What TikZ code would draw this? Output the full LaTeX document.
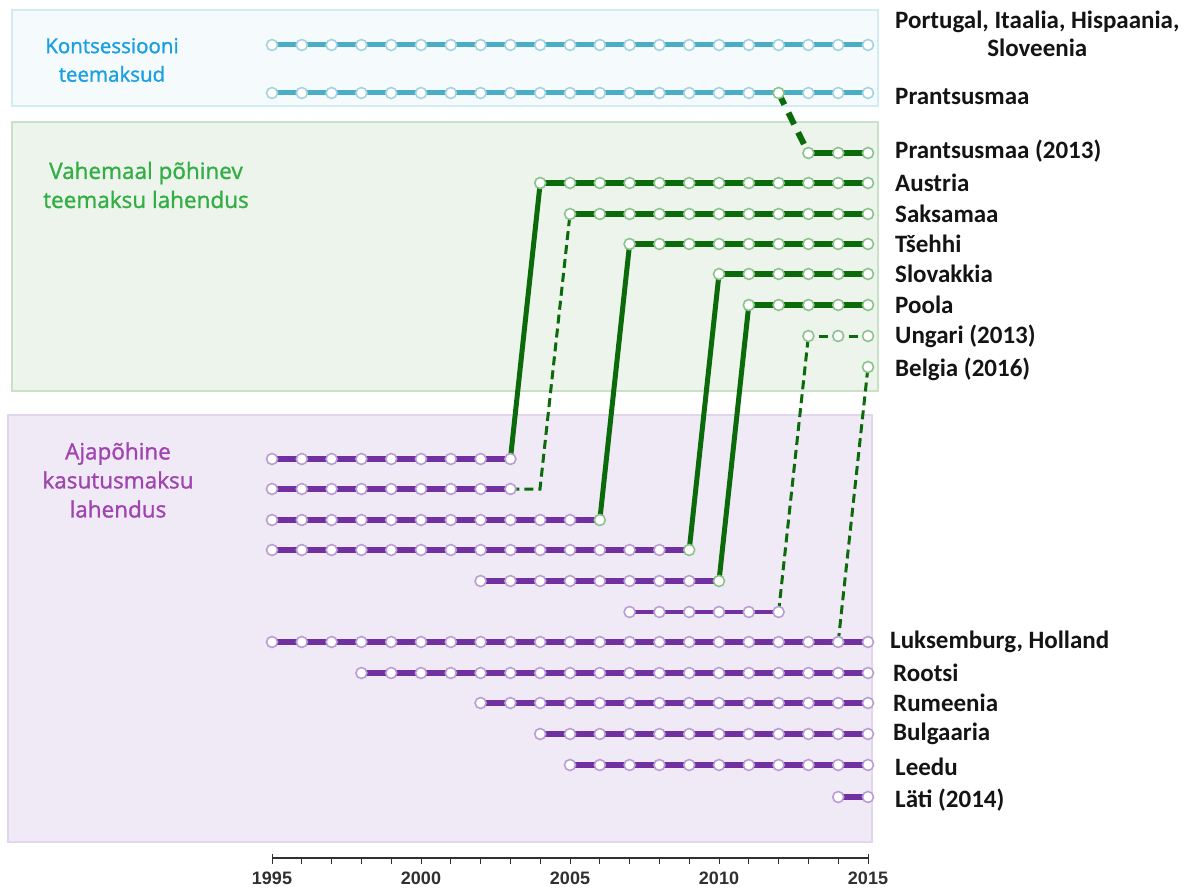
\documentclass[tikz,border=0pt]{standalone}
\usepackage{fontspec}
\setmainfont{Carlito}
\newfontfamily\groupfont[FakeBold=1.3]{Open Sans}
\newfontfamily\axisfont{Liberation Sans}

\definecolor{concline}{HTML}{4BACC6}
\definecolor{concdot}{HTML}{A3D3E0}
\definecolor{concfill}{HTML}{F5FAFC}
\definecolor{concedge}{HTML}{D3EBF3}
\definecolor{conctext}{HTML}{1A9FE0}
\definecolor{distline}{HTML}{0B6B0B}
\definecolor{distdot}{HTML}{8CC38C}
\definecolor{distfill}{HTML}{EDF4EC}
\definecolor{distedge}{HTML}{C9E1C7}
\definecolor{disttext}{HTML}{33AE45}
\definecolor{timeline}{HTML}{7030A0}
\definecolor{timedot}{HTML}{B99DD4}
\definecolor{timefill}{HTML}{F0EAF6}
\definecolor{timeedge}{HTML}{E2D6EE}
\definecolor{timetext}{HTML}{A045B0}
\definecolor{labeltext}{HTML}{141414}
\definecolor{axiscol}{HTML}{303030}

\pgfdeclarelayer{boxes}
\pgfdeclarelayer{links}
\pgfsetlayers{boxes,links,main}

\tikzset{
  yeardot/.style={circle, minimum size=11pt, inner sep=0pt, fill=white, line width=1.6pt},
  concdotst/.style={yeardot, draw=concdot},
  distdotst/.style={yeardot, draw=distdot},
  timedotst/.style={yeardot, draw=timedot},
  % dots where a country moves over to a distance-based system
  hl fr-2012/.style={draw=distdot},
  hl t3-2006/.style={draw=distdot},
  hl t4-2009/.style={draw=distdot},
  hl t5-2010/.style={draw=distdot},
  concln/.style={concline, line width=5pt},
  distln/.style={distline, line width=6pt},
  timeln/.style={timeline, line width=5.5pt},
  timethin/.style={timeline, line width=4pt},
  solidlink/.style={distline, line width=5pt},
  thinlink/.style={distline, line width=3pt, dash pattern=on 9pt off 5pt},
  frlink/.style={distline, line width=6pt, dash pattern=on 13pt off 9pt},
  groupbox/.style={line width=1.5pt},
  grouplabel/.style={font=\groupfont\fontsize{22.5}{29}\selectfont, align=center},
  country/.style={anchor=west, text=labeltext, font=\bfseries\fontsize{25}{28}\selectfont, inner sep=0pt},
  yearlabel/.style={text=axiscol, font=\axisfont\bfseries\fontsize{18}{18}\selectfont},
}

% one row of yearly dots: name, y, first year, last year, dot style
\newcommand\dotrow[5]{%
  \foreach \yr in {#3,...,#4}
    \node[#5, hl #1-\yr/.try] (#1-\yr) at ({272+(\yr-1995)*29.8},#2) {};
}
% the bar joining a row's first and last dot
\newcommand\rowbar[4]{\draw[#4] (#1-#2.center) -- (#1-#3.center);}

\begin{document}
\begin{tikzpicture}[x=1pt, y=-1pt]
\useasboundingbox (0,0) rectangle (1189,888);

% group backgrounds
\begin{pgfonlayer}{boxes}
  \fill[white] (0,0) rectangle (1189,888);
  \draw[groupbox, draw=concedge, fill=concfill] (12,10) rectangle (878,106);
  \draw[groupbox, draw=distedge, fill=distfill] (12,122) rectangle (878,391);
  \draw[groupbox, draw=timeedge, fill=timefill] (8,415) rectangle (872,842);
\end{pgfonlayer}

% group titles
\node[grouplabel, text=conctext, font=\groupfont\fontsize{20.5}{28.5}\selectfont] (gconc) at (112,60) {Kontsessiooni\\teemaksud};
\node[grouplabel, text=disttext] (gdist) at (146,185) {Vahemaal põhinev\\teemaksu lahendus};
\node[grouplabel, text=timetext] (gtime) at (118,480) {Ajapõhine\\kasutusmaksu\\lahendus};

% concession tolls
\dotrow{pt}{45}{1995}{2015}{concdotst}
\dotrow{fr}{93}{1995}{2015}{concdotst}

% distance-based tolls
\dotrow{frn}{153}{2013}{2015}{distdotst}
\dotrow{au}{183}{2004}{2015}{distdotst}
\dotrow{de}{214}{2005}{2015}{distdotst}
\dotrow{cz}{244}{2007}{2015}{distdotst}
\dotrow{sk}{274}{2010}{2015}{distdotst}
\dotrow{pl}{305}{2011}{2015}{distdotst}
\dotrow{hu}{336}{2013}{2015}{distdotst}
\dotrow{be}{367}{2015}{2015}{distdotst}

% time-based vignettes
\dotrow{t1}{459}{1995}{2003}{timedotst}
\dotrow{t2}{489}{1995}{2003}{timedotst}
\dotrow{t3}{520}{1995}{2006}{timedotst}
\dotrow{t4}{550}{1995}{2009}{timedotst}
\dotrow{t5}{581}{2002}{2010}{timedotst}
\dotrow{t6}{612}{2007}{2012}{timedotst}
\dotrow{lu}{642}{1995}{2015}{timedotst}
\dotrow{se}{673}{1998}{2015}{timedotst}
\dotrow{ro}{703}{2002}{2015}{timedotst}
\dotrow{bg}{734}{2004}{2015}{timedotst}
\dotrow{lt}{765}{2005}{2015}{timedotst}
\dotrow{lv}{797}{2014}{2015}{timedotst}

\coordinate (debend) at (540,489);

\begin{pgfonlayer}{links}
  \rowbar{pt}{1995}{2015}{concln}
  \rowbar{fr}{1995}{2015}{concln}
  \rowbar{frn}{2013}{2015}{distln}
  \rowbar{au}{2004}{2015}{distln}
  \rowbar{de}{2005}{2015}{distln}
  \rowbar{cz}{2007}{2015}{distln}
  \rowbar{sk}{2010}{2015}{distln}
  \rowbar{pl}{2011}{2015}{distln}
  \draw[distline, line width=3pt, shorten <=4pt, shorten >=4pt] (hu-2013) -- (hu-2014);
  \draw[distline, line width=3pt, shorten <=4pt, shorten >=4pt] (hu-2014) -- (hu-2015);
  \rowbar{t1}{1995}{2003}{timeln}
  \rowbar{t2}{1995}{2003}{timeln}
  \rowbar{t3}{1995}{2006}{timeln}
  \rowbar{t4}{1995}{2009}{timeln}
  \rowbar{t5}{2002}{2010}{timeln}
  \rowbar{t6}{2007}{2012}{timethin}
  \rowbar{lu}{1995}{2015}{timeln}
  \rowbar{se}{1998}{2015}{timeln}
  \rowbar{ro}{2002}{2015}{timeln}
  \rowbar{bg}{2004}{2015}{timeln}
  \rowbar{lt}{2005}{2015}{timeln}
  \rowbar{lv}{2014}{2015}{timeln}
  % switches to distance-based tolling
  \draw[frlink] (fr-2012.center) -- (frn-2013.center);
  \draw[solidlink] (t1-2003.center) -- (au-2004.center);
  \draw[thinlink] (t2-2003.center) -- (debend) -- (de-2005.center);
  \draw[solidlink] (t3-2006.center) -- (cz-2007.center);
  \draw[solidlink] (t4-2009.center) -- (sk-2010.center);
  \draw[solidlink] (t5-2010.center) -- (pl-2011.center);
  \draw[thinlink] (t6-2012.center) -- (hu-2013.center);
  \draw[thinlink] (lu-2014.center) -- (be-2015.center);
\end{pgfonlayer}

% country names
\node[country, align=center, anchor=north west] (lpt) at (895,11) {Portugal, Itaalia, Hispaania,\\Sloveenia};
\node[country] (lfr) at (895,96) {Prantsusmaa};
\node[country] (lfrn) at (895,151) {Prantsusmaa (2013)};
\node[country] (lau) at (895,183) {Austria};
\node[country] (lde) at (895,214) {Saksamaa};
\node[country] (lcz) at (895,244) {Tšehhi};
\node[country] (lsk) at (895,274) {Slovakkia};
\node[country] (lpl) at (895,305) {Poola};
\node[country] (lhu) at (895,336) {Ungari (2013)};
\node[country] (lbe) at (895,369) {Belgia (2016)};
\node[country] (llu) at (890,642) {Luksemburg, Holland};
\node[country] (lse) at (893,673) {Rootsi};
\node[country] (lro) at (893,703) {Rumeenia};
\node[country] (lbg) at (893,734) {Bulgaaria};
\node[country] (llt) at (895,767) {Leedu};
\node[country] (llv) at (895,800) {Läti (2014)};

% year axis
\coordinate (axstart) at (272,858);
\coordinate (axend) at (868,858);
\draw[axiscol, line width=1.2pt] (axstart) -- (axend);
\foreach \yr in {1995,...,2015}
  \draw[axiscol, line width=1pt] ({272+(\yr-1995)*29.8},858) -- ++(0,6);
\draw[axiscol, line width=1pt] (axstart) -- ++(0,-4);
\draw[axiscol, line width=1pt] (axend) -- ++(0,-4);
\foreach \yr in {1995,2000,2005,2010,2015}
  \node[yearlabel] (ax\yr) at ({272+(\yr-1995)*29.8},878) {\yr};
\end{tikzpicture}
\end{document}
